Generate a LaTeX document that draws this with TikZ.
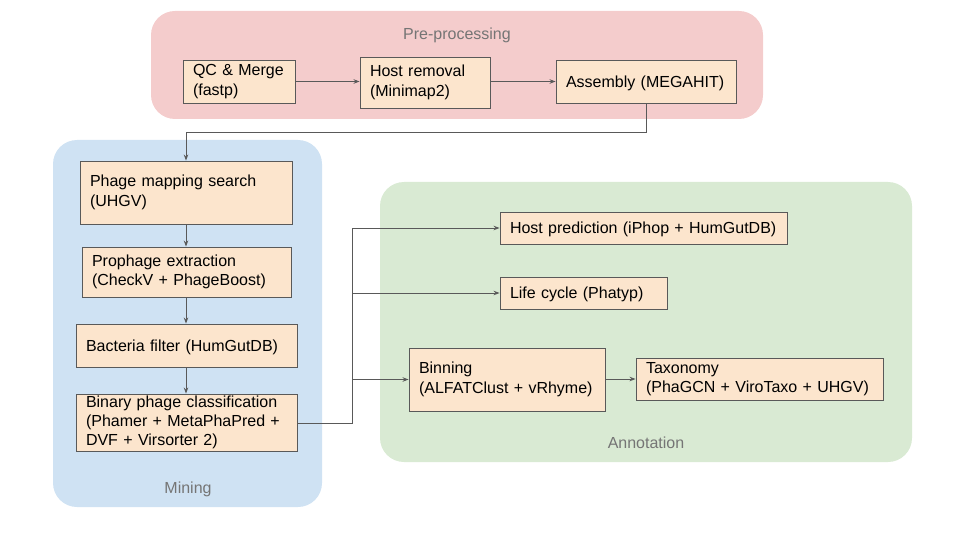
\documentclass[tikz,border=0pt]{standalone}
\usepackage{fontspec}
\setmainfont{Liberation Sans}
\usetikzlibrary{arrows.meta}
\definecolor{boxfill}{HTML}{FCE5CD}
\definecolor{boxline}{HTML}{595959}
\definecolor{prefill}{HTML}{F4CCCC}
\definecolor{minefill}{HTML}{CFE2F3}
\definecolor{annofill}{HTML}{D9EAD3}
\definecolor{labelgray}{HTML}{757575}
\tikzset{
  stage/.style={draw=boxline, fill=boxfill, rectangle, line width=0.9pt, align=left, inner xsep=10pt, inner ysep=0pt, font=\fontsize{16}{19.5}\selectfont},
  oneline/.style={text depth=0pt},
  group/.style={rounded corners=24pt, draw=none},
  grouplabel/.style={text=labelgray, font=\fontsize{16}{19.5}\selectfont},
  flow/.style={->, boxline, line width=0.9pt}
}

\begin{document}
\begin{tikzpicture}[x=1pt, y=-1pt, >={Stealth[length=6pt,width=4.5pt]}]
    \useasboundingbox (0,0) rectangle (960,540);
    % groups
    \fill[group, prefill] (151,11) rectangle (763,119);
    \fill[group, minefill] (53,140) rectangle (322,507);
    \fill[group, annofill] (380,182) rectangle (912,462);
    \node[grouplabel] (prelabel) at (457,35) {Pre-processing};
    \node[grouplabel] (minelabel) at (188,489) {Mining};
    \node[grouplabel] (annolabel) at (646,443) {Annotation};

    % pre-processing
    \node[stage, text width=92pt, minimum height=43pt] (qc) at (239,81.5) {QC \& Merge\\(fastp)};
    \node[stage, text width=110pt, minimum height=51pt] (hostrm) at (425,82.5) {Host removal\\(Minimap2)};
    \node[stage, oneline, text width=160pt, minimum height=43pt] (asm) at (646,81.5) {Assembly (MEGAHIT)};

    % mining
    \node[stage, text width=192pt, minimum height=63pt] (mapping) at (186,192.5) {Phage mapping search\\(UHGV)};
    \node[stage, text width=189pt, minimum height=50pt] (prophage) at (186.5,272) {Prophage extraction\\(CheckV + PhageBoost)};
    \node[stage, oneline, text width=201pt, minimum height=43pt] (bacteria) at (186.5,345.5) {Bacteria filter (HumGutDB)};
    \node[stage, text width=201pt, minimum height=57pt, font=\fontsize{16}{19}\selectfont] (binary) at (186.5,422.5) {Binary phage classification\\(Phamer + MetaPhaPred +\\DVF + Virsorter 2)};

    % annotation
    \node[stage, oneline, text width=267pt, minimum height=32pt] (hostpred) at (643.5,228) {Host prediction (iPhop + HumGutDB)};
    \node[stage, oneline, text width=147pt, minimum height=32pt] (lifecycle) at (583.5,293) {Life cycle (Phatyp)};
    \node[stage, text width=176pt, minimum height=63pt] (binning) at (507,379.5) {Binning\\(ALFATClust + vRhyme)};
    \node[stage, text width=227pt, minimum height=42pt] (taxonomy) at (759.5,379) {Taxonomy\\(PhaGCN + ViroTaxo + UHGV)};

    \coordinate (split) at (352,423);
    \coordinate (bend) at (186,132);

    % connectors
    \draw[flow] (qc) -- (qc -| hostrm.west);
    \draw[flow] (hostrm.east |- asm) -- (asm);
    \draw[flow] (asm.south) |- (bend) -- (mapping.north);
    \draw[flow] (mapping.south -| bend) -- (prophage.north -| bend);
    \draw[flow] (prophage.south -| bend) -- (bacteria.north -| bend);
    \draw[flow] (bacteria.south -| bend) -- (binary.north -| bend);
    \draw[flow] (binary.east |- split) -- (split) |- (hostpred.west);
    \draw[flow] (split) |- (lifecycle.west);
    \draw[flow] (split) |- (binning.west);
    \draw[flow] (binning.east |- taxonomy) -- (taxonomy);
\end{tikzpicture}
\end{document}
